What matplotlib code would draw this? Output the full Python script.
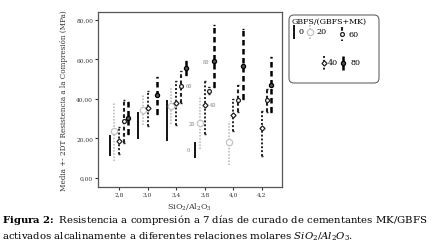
import numpy as np
import matplotlib
matplotlib.use("Agg")
import matplotlib.pyplot as plt
from matplotlib.patches import FancyBboxPatch

plt.rcParams["font.family"] = "DejaVu Serif"
plt.rcParams["mathtext.fontset"] = "dejavuserif"

ratios = ["2,8", "3,0", "3,4", "3,8", "4,0", "4,2"]
series = ["0", "20", "40", "60", "80"]
nan = np.nan

# mean, lower (mean - 2SD), upper (mean + 2SD), in MPa
mean_0 = [16.5, 26.7, 29.1, 14.2, nan, nan]
low_0 = [11.1, 19.7, 18.6, 10.1, nan, nan]
high_0 = [21.8, 33.6, 39.6, 18.4, nan, nan]

mean_20 = [23.6, 34.4, 36.6, 27.8, 18.1, nan]
low_20 = [8.8, 26.8, 27.3, 14.7, 6.6, nan]
high_20 = [38.6, 42.0, 45.4, 41.7, 29.0, nan]

mean_40 = [18.6, 35.4, 38.0, 37.0, 32.0, 25.2]
low_40 = [12.2, 26.5, 27.0, 22.0, 24.0, 11.3]
high_40 = [25.7, 44.2, 49.3, 49.3, 40.0, 34.1]

mean_60 = [28.7, nan, 46.7, 44.2, 39.6, 39.6]
low_60 = [17.7, nan, 38.0, 42.5, 33.3, 33.3]
high_60 = [39.6, nan, 54.0, 46.0, 47.2, 45.0]

mean_80 = [30.2, 42.0, 55.7, 59.0, 56.6, 47.0]
low_80 = [22.3, 32.4, 52.3, 46.0, 40.0, 33.3]
high_80 = [38.3, 51.0, 59.1, 77.5, 75.4, 61.0]

means = [mean_0, mean_20, mean_40, mean_60, mean_80]
lows = [low_0, low_20, low_40, low_60, low_80]
highs = [high_0, high_20, high_40, high_60, high_80]

# point labels shown next to some markers: (series index, ratio index, dx, dy)
point_labels = [(0, 3, -5, 0), (1, 3, -6, 0), (2, 3, 6, 0), (3, 2, 6, 0), (4, 3, -6, 0)]

styles = [
    dict(color="black", ls="-", lw=1.3, marker="none", ms=0, mfc="none", cap=0),
    dict(color="#c4c4c4", ls=(0, (0.8, 0.8)), lw=1.4, marker="o", ms=4.5, mfc="white", cap=0),
    dict(color="#222222", ls=(0, (1.0, 1.0)), lw=1.4, marker="D", ms=2.6, mfc="white", cap=1.0),
    dict(color="#222222", ls=(0, (1.8, 1.2)), lw=1.5, marker="o", ms=2.8, mfc="white", cap=1.0),
    dict(color="black", ls=(0, (2.2, 1.4)), lw=1.8, marker="o", ms=3.0, mfc="#555555", cap=1.0),
]

fig = plt.figure(figsize=(4.36, 2.51), dpi=100)
ax = fig.add_axes([98 / 436, 1 - 188 / 251, 184 / 436, 175 / 251])

x = np.arange(len(ratios))
step = 0.164
for k, name in enumerate(series):
    st = styles[k]
    m = np.array(means[k])
    lo = np.array(lows[k])
    hi = np.array(highs[k])
    xs = x + (k - 2) * step
    ok = ~np.isnan(m)
    eb = ax.errorbar(xs[ok], m[ok], yerr=[m[ok] - lo[ok], hi[ok] - m[ok]],
                     fmt="none", ecolor=st["color"], elinewidth=st["lw"],
                     capsize=st["cap"], capthick=1.0)
    eb[2][0].set_linestyle(st["ls"])
    if st["marker"] != "none":
        ax.plot(xs[ok], m[ok], ls="none", marker=st["marker"], ms=st["ms"],
                mfc=st["mfc"], mec=st["color"], mew=0.9, zorder=3)

for k, i, dx, dy in point_labels:
    ax.annotate(series[k], (i + (k - 2) * step, means[k][i]), xytext=(dx, dy),
                textcoords="offset points", fontsize=3.6, color="#777777",
                ha="center", va="center")

ax.set_xlim(-0.73, 5.70)
ax.set_ylim(-4.6, 84)
ax.set_xticks(x)
ax.set_xticklabels(ratios, fontsize=4.2)
yt = [0, 20, 40, 60, 80]
ax.set_yticks(yt)
ax.set_yticklabels(["%d,00" % v for v in yt], fontsize=4.2)
ax.tick_params(length=2, width=0.8, pad=1.5, colors="#333333")
for sp in ax.spines.values():
    sp.set_color("#555555")
    sp.set_linewidth(0.9)

ax.set_xlabel("SiO$_2$/Al$_2$O$_3$", fontsize=5.8, labelpad=3, color="#333333")
ax.set_ylabel("Media +- 2DT Resistencia a la Compresión (MPa)", fontsize=5.2,
              labelpad=6, color="#333333")

# legend box
lg = fig.add_axes([288 / 436, 1 - 85 / 251, 92 / 436, 70 / 251])
lg.set_xlim(0, 92)
lg.set_ylim(70, 0)
lg.axis("off")
lg.add_patch(FancyBboxPatch((1, 1), 90, 68, boxstyle="round,pad=0,rounding_size=5",
                            fc="white", ec="#666666", lw=0.8, clip_on=False))
lg.text(3, 6.5, "GBFS/(GBFS+MK)", fontsize=5.7, va="center", ha="left")
legend_pos = [(5.5, 17.5, 10.5), (22, 17.5, 28.5), (35.5, 48.5, 39.5), (53.5, 20, 60), (54.5, 48.5, 62)]
for k, (lx, ly, tx) in enumerate(legend_pos):
    st = styles[k]
    lg.plot([lx, lx], [ly - 7, ly + 7], color=st["color"], lw=st["lw"], ls=st["ls"],
            solid_capstyle="butt")
    if st["marker"] != "none":
        lg.plot([lx], [ly], ls="none", marker=st["marker"], ms=st["ms"],
                mfc=st["mfc"], mec=st["color"], mew=0.9)
    lg.text(tx, ly, series[k], fontsize=5.8, va="center", ha="left")

fig.text(0.004, 1 - 220 / 251,
         r"$\mathbf{Figura\ 2\!:}$ Resistencia a compresión a 7 días de curado de cementantes MK/GBFS",
         fontsize=7.25, va="center", ha="left")
fig.text(0.004, 1 - 237 / 251,
         r"activados alcalinamente a diferentes relaciones molares $SiO_2/Al_2O_3$.",
         fontsize=7.25, va="center", ha="left")

fig.savefig("out.png", dpi=100)
